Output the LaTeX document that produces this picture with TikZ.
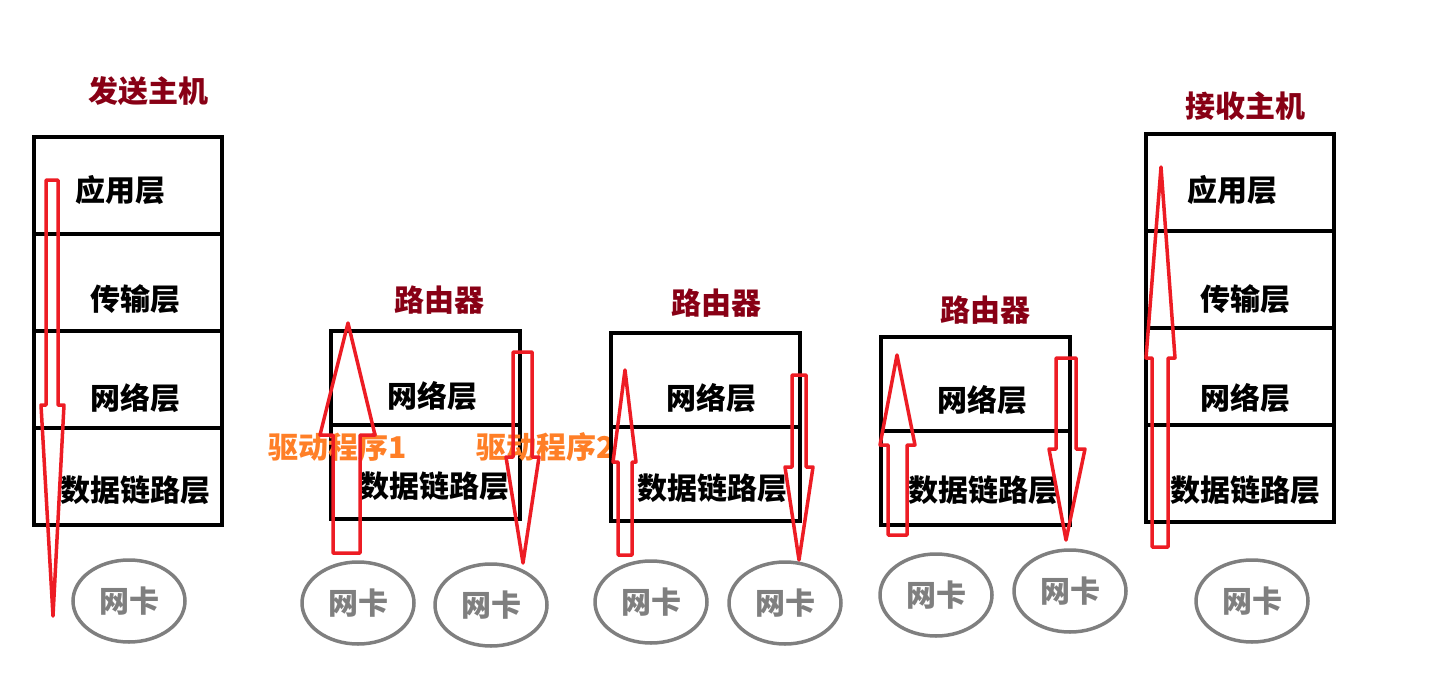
\documentclass[tikz,border=0pt]{standalone}
\usepackage{fontspec}
\newfontfamily\cjk{Noto Sans CJK SC}
\usepackage{tikz}
\usetikzlibrary{shapes.geometric}
\definecolor{titlered}{RGB}{136,0,21}
\definecolor{arrowred}{RGB}{237,28,36}
\definecolor{driverorange}{RGB}{255,127,39}
\definecolor{nicgray}{RGB}{127,127,127}
\begin{document}
\begin{tikzpicture}[x=1pt,y=-1pt,
  label font/.style={font=\cjk\bfseries\fontsize{30}{32}\selectfont},
  hostlayer/.style={draw, line width=4pt, inner sep=0pt, minimum width=188pt, minimum height=97pt},
  routerlayer/.style={draw, line width=4pt, inner sep=0pt, minimum width=189pt, minimum height=94pt},
  layertext/.style={label font, inner sep=0pt},
  title/.style={label font, text=titlered, inner sep=0pt},
  driver/.style={label font, text=driverorange, inner sep=0pt},
  nic/.style={draw=nicgray, ellipse, line width=3.5pt, label font, text=nicgray, minimum width=112pt, minimum height=82pt, inner sep=0pt},
  redarrow/.style={draw=arrowred, line width=3.5pt, line join=round}]
\useasboundingbox (0,0) rectangle (1453,688);

\draw (148,91) node[title] (ts) {发送主机};
\draw (127.5,185) node[hostlayer] (s1) {} (120,190) node[layertext] (s1t) {应用层};
\draw (127.5,282) node[hostlayer] (s2) {} (135,299) node[layertext] (s2t) {传输层};
\draw (127.5,379) node[hostlayer] (s3) {} (135,398) node[layertext] (s3t) {网络层};
\draw (127.5,476) node[hostlayer] (s4) {} (135,490) node[layertext] (s4t) {数据链路层};
\draw (129,601) node[nic] (n0) {网卡};

\draw (439,300) node[title] (ta) {路由器};
\draw (425.5,378) node[routerlayer] (a1) {} (432,396) node[layertext] (a1t) {网络层};
\draw (425.5,472) node[routerlayer] (a2) {} (434,486) node[layertext] (a2t) {数据链路层};
\draw (358,603) node[nic] (n1) {网卡};
\draw (491,605) node[nic] (n2) {网卡};
\draw (338,447) node[driver] (d1) {驱动程序1};
\draw (546,447) node[driver] (d2) {驱动程序2};

\draw (716,303) node[title] (tb) {路由器};
\draw (705.5,380) node[routerlayer] (b1) {} (711,398) node[layertext] (b1t) {网络层};
\draw (705.5,474) node[routerlayer] (b2) {} (712,488) node[layertext] (b2t) {数据链路层};
\draw (651,602) node[nic] (n3) {网卡};
\draw (785,603) node[nic] (n4) {网卡};

\draw (985,310) node[title] (tc) {路由器};
\draw (975.5,384) node[routerlayer] (c1) {} (982,400) node[layertext] (c1t) {网络层};
\draw (975.5,478) node[routerlayer] (c2) {} (983,490) node[layertext] (c2t) {数据链路层};
\draw (936,595) node[nic] (n5) {网卡};
\draw (1070,591) node[nic] (n6) {网卡};

\draw (1245,106) node[title] (tr) {接收主机};
\draw (1239.5,182) node[hostlayer] (r1) {} (1232,190) node[layertext] (r1t) {应用层};
\draw (1239.5,279) node[hostlayer] (r2) {} (1245,299) node[layertext] (r2t) {传输层};
\draw (1239.5,376) node[hostlayer] (r3) {} (1245,398) node[layertext] (r3t) {网络层};
\draw (1239.5,473) node[hostlayer] (r4) {} (1245,490) node[layertext] (r4t) {数据链路层};
\draw (1252,601) node[nic] (n7) {网卡};

\draw [redarrow] (46,180) -- (46,405) -- (41,405) -- (53,616) -- (64,405) -- (58,405) -- (58,180) -- cycle;
\draw [redarrow] (333,553) -- (333,435) -- (320,435) -- (348,323) -- (375,435) -- (360,435) -- (360,553) -- cycle;
\draw [redarrow] (513,352) -- (513,457) -- (506,457) -- (523,563) -- (539,457) -- (532,457) -- (532,352) -- cycle;
\draw [redarrow] (618,555) -- (618,462) -- (613,462) -- (625,370) -- (636,462) -- (632,462) -- (632,555) -- cycle;
\draw [redarrow] (792,375) -- (792,467) -- (785,467) -- (799,560) -- (813,467) -- (806,467) -- (806,375) -- cycle;
\draw [redarrow] (888,535) -- (888,445) -- (880,445) -- (897,355) -- (915,445) -- (907,445) -- (907,535) -- cycle;
\draw [redarrow] (1056,358) -- (1056,449) -- (1049,449) -- (1066,540) -- (1085,449) -- (1076,449) -- (1076,358) -- cycle;
\draw [redarrow] (1152,547) -- (1152,358) -- (1146,358) -- (1161,167) -- (1175,358) -- (1168,358) -- (1168,547) -- cycle;

\end{tikzpicture}
\end{document}
